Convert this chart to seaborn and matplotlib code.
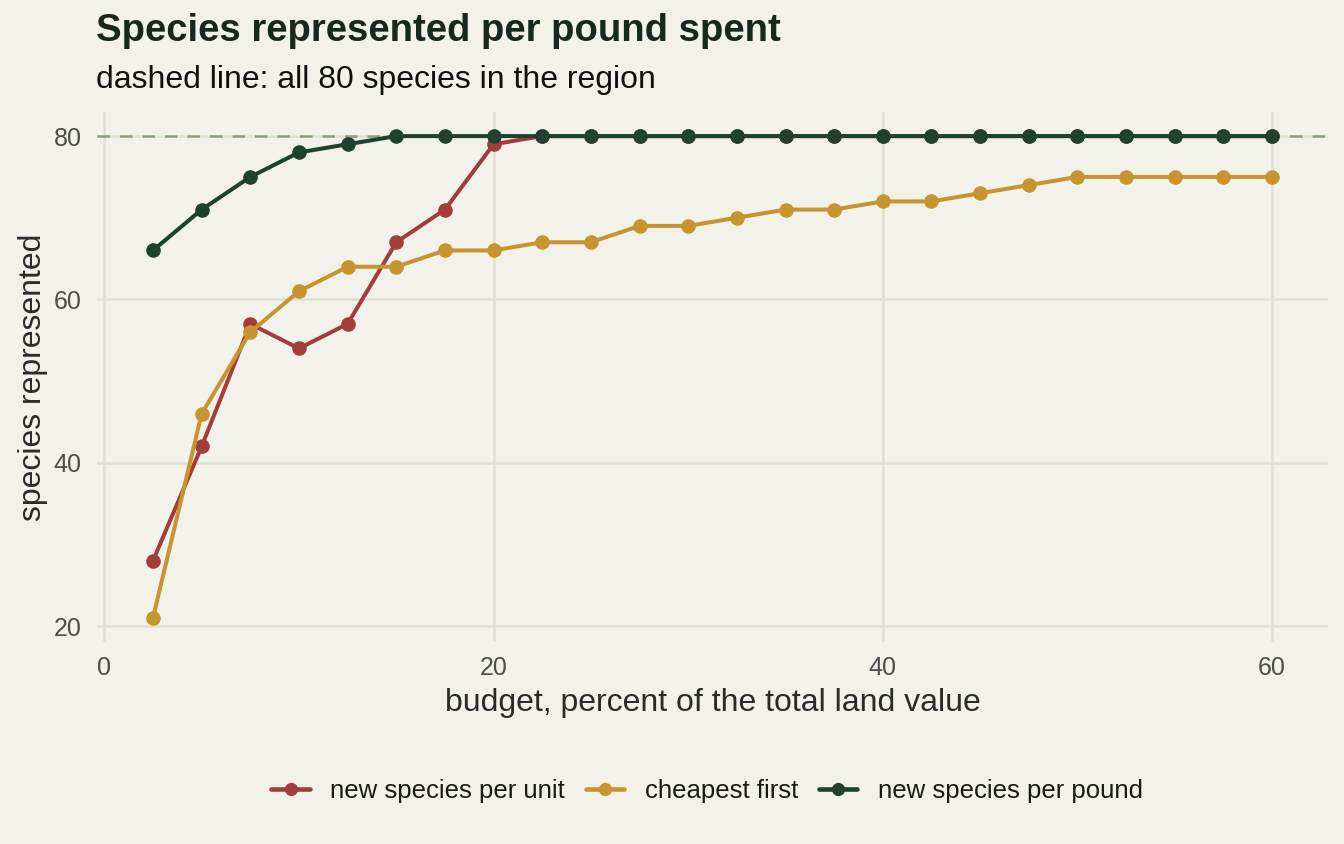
import numpy as np
import pandas as pd
import matplotlib.pyplot as plt
import seaborn as sns

# ======================
# data
# ======================
budget = [2.5, 5, 7.5, 10, 12.5, 15, 17.5, 20, 22.5, 25, 27.5, 30,
          32.5, 35, 37.5, 40, 42.5, 45, 47.5, 50, 52.5, 55, 57.5, 60]
per_unit = [28, 42, 57, 54, 57, 67, 71, 79, 80, 80, 80, 80,
            80, 80, 80, 80, 80, 80, 80, 80, 80, 80, 80, 80]
cheapest = [21, 46, 56, 61, 64, 64, 66, 66, 67, 67, 69, 69,
            70, 71, 71, 72, 72, 73, 74, 75, 75, 75, 75, 75]
per_pound = [66, 71, 75, 78, 79, 80, 80, 80, 80, 80, 80, 80,
             80, 80, 80, 80, 80, 80, 80, 80, 80, 80, 80, 80]
strategies = ['new species per unit', 'cheapest first', 'new species per pound']
total_species = 80

df = pd.concat([
    pd.DataFrame({'budget': budget, 'species': vals, 'strategy': name})
    for name, vals in zip(strategies, [per_unit, cheapest, per_pound])
])

bg = '#F2F1EA'
grid_c = '#E0DFD5'
palette = {'new species per unit': '#A33D3D',
           'cheapest first': '#C7952F',
           'new species per pound': '#1F4130'}

sns.set_theme(style='white')
plt.rcParams['font.family'] = ['Liberation Sans', 'DejaVu Sans']

fig = plt.figure(figsize=(13.44, 8.44), dpi=100, facecolor=bg)
# panel: x 97..1328 px, y 112..642 px
ax = fig.add_axes([0.0722, 0.2393, 0.9159, 0.6280])
ax.set_facecolor(bg)

ax.axhline(total_species, color='#8AA27A', lw=1.8, ls=(0, (5, 4)), zorder=1)

sns.lineplot(data=df, x='budget', y='species', hue='strategy',
             hue_order=strategies, palette=palette, marker='o',
             markeredgewidth=0, linewidth=2.9, ax=ax, zorder=3)
# make sure the points are as big as in the reference
for ln in ax.lines[1:]:
    ln.set_markersize(10.5)
    ln.set_markeredgewidth(0)

ax.set_xlim(-0.375, 62.875)
ax.set_ylim(18.05, 82.95)
ax.set_xticks([0, 20, 40, 60])
ax.set_yticks([20, 40, 60, 80])
ax.grid(True, color=grid_c, lw=1.8)
ax.set_axisbelow(True)
for s in ax.spines.values():
    s.set_visible(False)
ax.tick_params(axis='both', length=0, labelcolor='#4D4D4D', labelsize=18)
ax.tick_params(axis='x', pad=10)
ax.tick_params(axis='y', pad=11)

ax.set_xlabel('budget, percent of the total land value', fontsize=23,
              color='#2B2B2B', labelpad=6)
ax.set_ylabel('species represented', fontsize=23, color='#2B2B2B', labelpad=4)

fig.text(0.0715, 0.963, 'Species represented per pound spent', fontsize=27.5,
         fontweight='bold', color='#1A2620', va='center', ha='left')
fig.text(0.0715, 0.905, 'dashed line: all 80 species in the region', fontsize=23,
         color='#111111', va='center', ha='left')

handles, labels = ax.get_legend_handles_labels()
for h in handles:
    h.set_markersize(9.5)
    h.set_linewidth(3.3)
ax.legend_.remove()
fig.legend(handles, labels, loc='center', bbox_to_anchor=(0.526, 0.063),
           ncol=3, frameon=False, fontsize=18.5, handlelength=1.5,
           columnspacing=0.8, handletextpad=0.8, labelcolor='#1A1A1A')

fig.savefig('out.png', dpi=100, facecolor=bg)
